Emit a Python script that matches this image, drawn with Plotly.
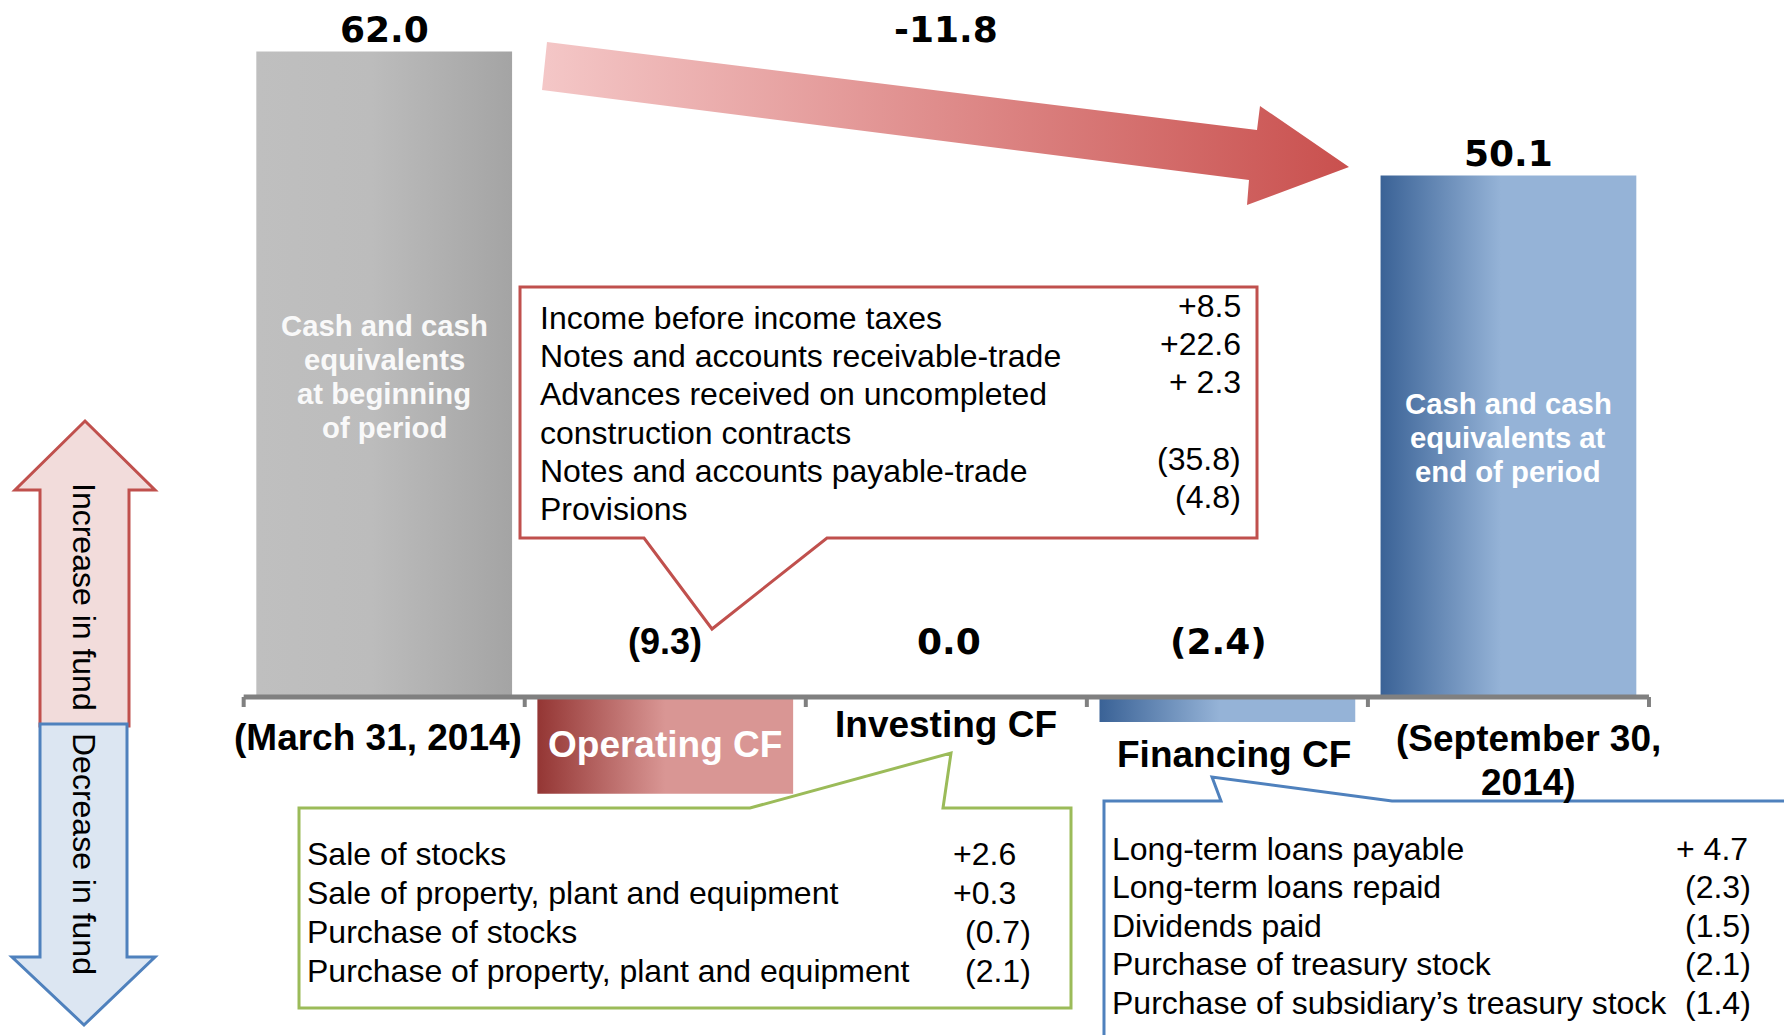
import plotly.graph_objects as go

# ---- data (billions of yen) ----
categories = ["(March 31, 2014)", "Operating CF", "Investing CF", "Financing CF", "(September 30,<br>2014)"]
values = [62.0, -9.3, 0.0, -2.4, 50.1]
value_text = ["62.0", "(9.3)", "0.0", "(2.4)", "50.1"]
net_change_text = "-11.8"

start_bar_text = ["Cash and cash", "equivalents", "at beginning", "of period"]
end_bar_text = ["Cash and cash", "equivalents at", "end of period"]

operating_items = ["Income before income taxes", "Notes and accounts receivable-trade",
                   "Advances received on uncompleted<br>construction contracts",
                   "Notes and accounts payable-trade", "Provisions"]
operating_amounts = ["+8.5", "+22.6", "+ 2.3", "(35.8)", "(4.8)"]

investing_items = ["Sale of stocks", "Sale of property, plant and equipment",
                   "Purchase of stocks", "Purchase of property, plant and equipment"]
investing_amounts = ["+2.6", "+0.3", "(0.7)", "(2.1)"]

financing_items = ["Long-term loans payable", "Long-term loans repaid", "Dividends paid",
                   "Purchase of treasury stock", "Purchase of subsidiary’s treasury stock"]
financing_amounts = ["+ 4.7", "(2.3)", "(1.5)", "(2.1)", "(1.4)"]

legend_up = "Increase in fund"
legend_down = "Decrease in fund"

# ---- styles ----
ARIAL = "Liberation Sans, Arial, sans-serif"
VERDANA = "DejaVu Sans, Verdana, sans-serif"
RED, GREEN, BLUE = "#c0504d", "#9bbb59", "#4f81bd"
GREY_SCALE = [[0, "#bfbfbf"], [0.45, "#bcbcbc"], [1, "#a4a4a4"]]
RED_SCALE = [[0, "#943634"], [0.5, "#d99694"], [1, "#d99694"]]
BLUE_SCALE = [[0, "#3a6296"], [0.47, "#95b3d7"], [1, "#95b3d7"]]
bar_fills = [GREY_SCALE, RED_SCALE, None, BLUE_SCALE, BLUE_SCALE]
value_fonts = [VERDANA, ARIAL, VERDANA, VERDANA, VERDANA]
value_dx = [0, 0, 3, -9, 0]           # px nudges of the value labels
bar_w = 0.91
label_dx = [-6, 0, 0, 7, 20]          # px offset of category labels
label_dy = [40, 47, 27, 57, 41]       # px below the zero line
PAD = 3                               # annotation inner padding to compensate

W, H = 1784, 1035
X0PX, XSTEP = 384.2, 281.06   # pixel of category 0, pixels per category
Y0PX, YSTEP = 697.0, 10.41    # pixel of zero, pixels per unit


def dx(p):
    return (p - X0PX) / XSTEP


def dy(p):
    return (Y0PX - p) / YSTEP


def path(pts, close=True):
    s = "M " + " L ".join(f"{dx(x):.4f},{dy(y):.4f}" for x, y in pts)
    return s + (" Z" if close else "")


annotations = []


def add_text(xp, yp, text, size=32, color="black", family=ARIAL, anchor="left", angle=0):
    if anchor == "left":
        xp -= PAD
    elif anchor == "right":
        xp += PAD
    annotations.append(dict(x=dx(xp), y=dy(yp), xref="x", yref="y", text=text, showarrow=False,
                            xanchor=anchor, yanchor="middle", textangle=angle,
                            font=dict(family=family, size=size, color=color)))


fig = go.Figure()

# big red arrow (gradient)
arrow_px = [(547, 42), (1257, 130), (1260, 106), (1349, 167), (1247, 205), (1249, 180), (542, 90), (547, 42)]
fig.add_trace(go.Scatter(x=[dx(p[0]) for p in arrow_px], y=[dy(p[1]) for p in arrow_px],
                         mode="lines", fill="toself", line=dict(width=0),
                         fillgradient=dict(type="horizontal", colorscale=[[0, "#f4c7c7"], [1, "#c9504e"]]),
                         hoverinfo="skip", showlegend=False))

# bars with gradients
for i, v in enumerate(values):
    if v == 0:
        continue
    xl, xr_ = i - bar_w / 2, i + bar_w / 2
    fig.add_trace(go.Scatter(x=[xl, xr_, xr_, xl, xl], y=[0, 0, v, v, 0], mode="lines",
                             fill="toself", line=dict(width=0),
                             fillgradient=dict(type="horizontal", colorscale=bar_fills[i]),
                             hoverinfo="skip", showlegend=False))

shapes = []
# axis line and ticks
shapes.append(dict(type="line", xref="x", yref="y", x0=-0.5, x1=len(values) - 0.5, y0=0, y1=0,
                   line=dict(color="#808080", width=5)))
for k in range(len(values) + 1):
    shapes.append(dict(type="line", xref="x", yref="y", x0=k - 0.5, x1=k - 0.5, y0=0, y1=dy(707),
                       line=dict(color="#808080", width=4)))

# legend arrows
up_px = [(85, 421), (155, 490), (129, 490), (129, 726), (40, 726), (40, 490), (15, 490)]
down_px = [(40, 724), (127, 724), (127, 957), (155, 957), (84, 1025), (12, 957), (40, 957)]
shapes.append(dict(type="path", xref="x", yref="y", path=path(up_px), fillcolor="#f2dcdb",
                   line=dict(color=RED, width=3)))
shapes.append(dict(type="path", xref="x", yref="y", path=path(down_px), fillcolor="#dce6f2",
                   line=dict(color=BLUE, width=3)))

# callout boxes
red_px = [(520, 287), (1257, 287), (1257, 538), (827, 538), (712, 629), (644, 538), (520, 538)]
green_px = [(299, 808), (750, 808), (951, 753), (943, 808), (1071, 808), (1071, 1008), (299, 1008)]
blue_px = [(1104, 1070), (1104, 801), (1221, 801), (1212, 777), (1392, 801), (1810, 801), (1810, 1070)]
for pts, col in [(red_px, RED), (green_px, GREEN), (blue_px, BLUE)]:
    shapes.append(dict(type="path", xref="x", yref="y", path=path(pts), fillcolor="white",
                       line=dict(color=col, width=3)))

# value labels
last = len(values) - 1
for i, (v, t) in enumerate(zip(values, value_text)):
    if i in (0, last):
        y, ys = v, 22
    else:
        y, ys = 0, 56
    annotations.append(dict(x=i, y=y, xshift=value_dx[i], yshift=ys, xref="x", yref="y",
                            text=f"<b>{t}</b>", showarrow=False, xanchor="center", yanchor="middle",
                            font=dict(family=value_fonts[i], size=36, color="black")))
annotations.append(dict(x=2, y=values[0], yshift=22, xref="x", yref="y", text=f"<b>{net_change_text}</b>",
                        showarrow=False, xanchor="center", yanchor="middle",
                        font=dict(family=VERDANA, size=36, color="black")))

# category labels
for i, c in enumerate(categories):
    color = "white" if i == 1 else "black"
    for j, line in enumerate(c.split("<br>")):
        annotations.append(dict(x=i, y=0, xshift=label_dx[i], yshift=-(label_dy[i] + 44 * j),
                                xref="x", yref="y", text=f"<b>{line}</b>", showarrow=False,
                                xanchor="center", yanchor="middle",
                                font=dict(family=ARIAL, size=37, color=color)))

# text inside the end bars
for j, line in enumerate(start_bar_text):
    add_text(X0PX, 325 + 34 * j, f"<b>{line}</b>", size=29.3, color="#f9f9f9", anchor="center")
for j, line in enumerate(end_bar_text):
    add_text(X0PX + 4 * XSTEP, 403 + 34 * j, f"<b>{line}</b>", size=29.3, color="white", anchor="center")

# operating CF breakdown
row = 0
for item, amt in zip(operating_items, operating_amounts):
    y0 = 318 + 38.2 * row
    add_text(1240, y0 - 12, amt, anchor="right")
    for line in item.split("<br>"):
        add_text(541, 318 + 38.2 * row, line)
        row += 1

# investing CF breakdown
for k, (item, amt) in enumerate(zip(investing_items, investing_amounts)):
    y0 = 854 + 39 * k
    add_text(308, y0, item)
    add_text(954 if amt.startswith("+") else 966, y0, amt)

# financing CF breakdown
for k, (item, amt) in enumerate(zip(financing_items, financing_amounts)):
    y0 = 849 + 38.4 * k
    add_text(1113, y0, item)
    add_text(1677 if amt.startswith("+") else 1686, y0, amt)

# legend text
add_text(84, 597, legend_up, anchor="center", angle=90)
add_text(84, 854, legend_down, anchor="center", angle=90)

fig.update_layout(
    width=W, height=H, margin=dict(l=0, r=0, t=0, b=0),
    paper_bgcolor="white", plot_bgcolor="white", showlegend=False,
    xaxis=dict(range=[dx(0), dx(W)], visible=False, fixedrange=True),
    yaxis=dict(range=[dy(H), dy(0)], visible=False, fixedrange=True),
    shapes=shapes, annotations=annotations,
)

# page body has a default 8px margin; drop it so the figure sits at the window origin
fig.write_html("out.html", config={"displayModeBar": False},
               post_script="document.body.style.margin='0';")
